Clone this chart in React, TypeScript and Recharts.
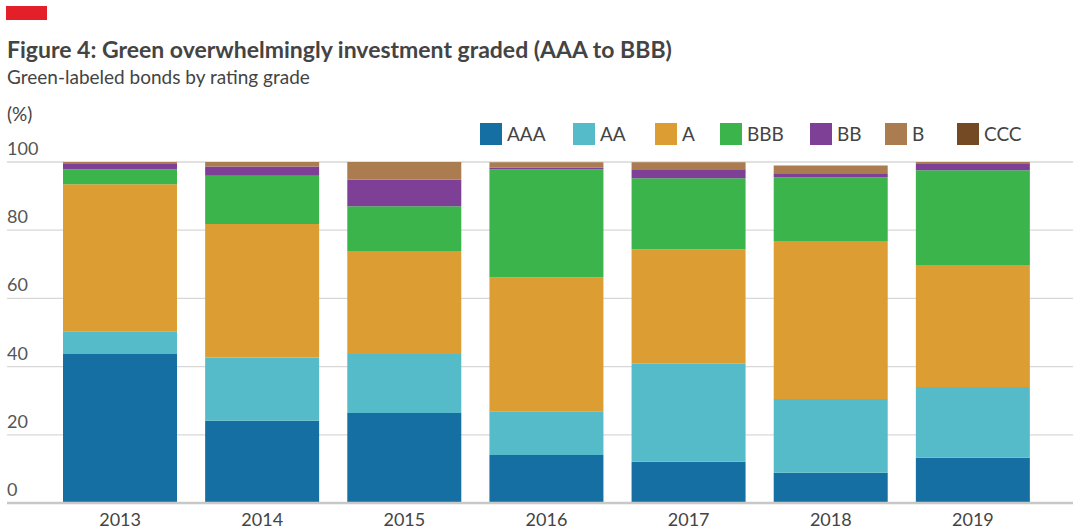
import { BarChart, Bar, XAxis, YAxis, CartesianGrid } from 'recharts';

// Share of green-labeled bonds by rating grade (%)
const years = ['2013', '2014', '2015', '2016', '2017', '2018', '2019'];
const aaa = [43.7, 24.1, 26.4, 14.1, 12.1, 8.9, 13.3];
const aa = [6.7, 18.6, 17.3, 12.8, 28.7, 21.6, 20.7];
const a = [43.1, 39.1, 30.2, 39.3, 33.6, 46.3, 35.8];
const bbb = [4.4, 14.2, 13.1, 31.7, 20.8, 18.7, 27.8];
const bb = [1.5, 2.7, 7.9, 0.4, 2.7, 1.2, 2.0];
const b = [0.6, 1.3, 5.1, 1.6, 2.0, 2.3, 0.4];
const ccc = [0, 0, 0, 0, 0, 0, 0];
const yTicks = [0, 20, 40, 60, 80, 100];

const SERIES = [
  { key: 'AAA', color: '#166fa3' },
  { key: 'AA', color: '#56bbc8' },
  { key: 'A', color: '#dc9e33' },
  { key: 'BBB', color: '#3bb54b' },
  { key: 'BB', color: '#7e3f96' },
  { key: 'B', color: '#aa7c4f' },
  { key: 'CCC', color: '#744a25' },
];

const data = years.map((year, i) => ({
  year,
  AAA: aaa[i],
  AA: aa[i],
  A: a[i],
  BBB: bbb[i],
  BB: bb[i],
  B: b[i],
  CCC: ccc[i],
}));

const FONT = 'Lato, "Open Sans", sans-serif';
const TEXT = '#444';

const renderYTick = ({ y, payload }: any) => (
  <text x={7} y={y - 7} fill="#555" fontSize={18} fontFamily={FONT} textAnchor="start">
    {payload.value}
  </text>
);

// year labels sit close to the bottom edge
const renderXTick = ({ x, y, payload }: any) => (
  <text x={x} y={y + 15} fill={TEXT} fontSize={18} fontFamily={FONT} textAnchor="middle">
    {payload.value}
  </text>
);

const legendX = [480, 573, 655, 720, 810, 885, 957];

export default function App() {
  return (
    <div
      style={{
        position: 'absolute',
        left: 0,
        top: 0,
        width: 1073,
        height: 531,
        background: '#fff',
        fontFamily: FONT,
        color: TEXT,
      }}
    >
      <div style={{ position: 'absolute', left: 6, top: 6, width: 41, height: 14, background: '#e3202a' }} />
      <div style={{ position: 'absolute', left: 7, top: 35, fontSize: 23, fontWeight: 700, whiteSpace: 'nowrap' }}>
        Figure 4: Green overwhelmingly investment graded (AAA to BBB)
      </div>
      <div style={{ position: 'absolute', left: 7, top: 65, fontSize: 19, whiteSpace: 'nowrap' }}>
        Green-labeled bonds by rating grade
      </div>
      <div style={{ position: 'absolute', left: 7, top: 102, fontSize: 19 }}>(%)</div>
      {SERIES.map((s, i) => (
        <div key={s.key} style={{ position: 'absolute', left: legendX[i], top: 122, display: 'flex', alignItems: 'center' }}>
          <span style={{ width: 22, height: 22, background: s.color, display: 'inline-block', marginRight: 5 }} />
          <span style={{ fontSize: 19 }}>{s.key}</span>
        </div>
      ))}
      <BarChart
        width={1073}
        height={531}
        data={data}
        margin={{ top: 162, right: 0, bottom: 0, left: 6 }}
        barSize={114}
        style={{ position: 'absolute', left: 0, top: 0 }}
      >
        <CartesianGrid vertical={false} stroke="#d8d8d8" strokeWidth={1.2} />
        <YAxis
          width={1}
          domain={[0, 100]}
          ticks={yTicks}
          axisLine={false}
          tickLine={false}
          tick={renderYTick}
          interval={0}
        />
        <XAxis
          dataKey="year"
          height={28}
          padding={{ left: 42, right: 29 }}
          axisLine={{ stroke: '#c8c8c8', strokeWidth: 2.5 }}
          tickLine={false}
          tick={renderXTick}
          interval={0}
        />
        {SERIES.map((s) => (
          <Bar key={s.key} dataKey={s.key} stackId="r" fill={s.color} isAnimationActive={false} />
        ))}
      </BarChart>
    </div>
  );
}
